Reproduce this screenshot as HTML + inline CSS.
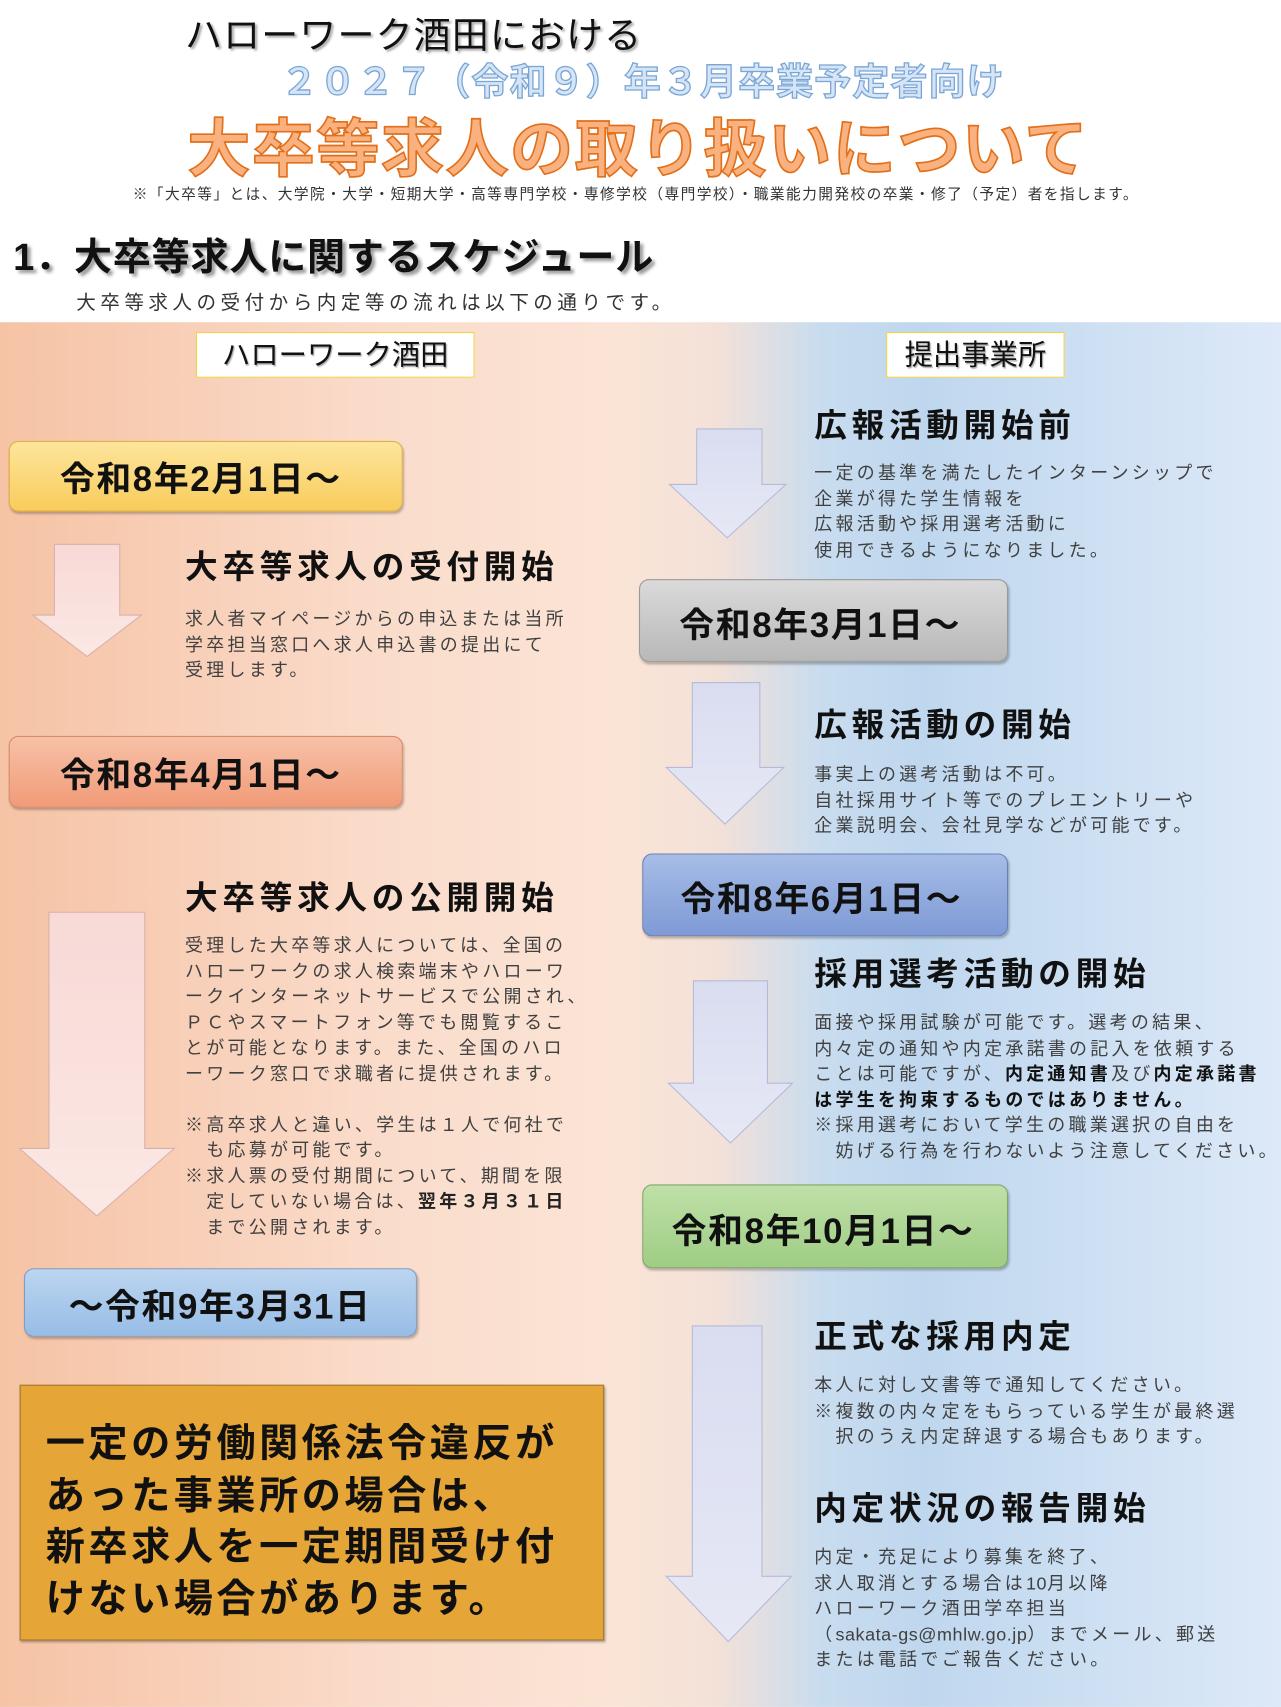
<!DOCTYPE html>
<html><head><meta charset="utf-8">
<style>
html,body{margin:0;padding:0;background:#fff;}
body{width:1281px;height:1707px;overflow:hidden;position:relative;}
#w{position:absolute;left:0;top:0;width:1177px;height:1568px;transform:scale(1.0886,1.0886);transform-origin:0 0;font-family:"Liberation Sans","Noto Sans CJK JP",sans-serif;}
.a{position:absolute;white-space:nowrap;}
.h{font-weight:bold;font-size:30px;letter-spacing:4.3px;color:#111;}
.t{font-size:16.5px;letter-spacing:3px;color:#404040;line-height:23.5px;}
.t .e{letter-spacing:0.5px;}
.d{position:absolute;border-radius:9px;font-weight:bold;font-size:32px;letter-spacing:1.5px;color:#111;box-sizing:border-box;box-shadow:1px 2px 2px rgba(0,0,0,.25);}
.lbl{position:absolute;background:#fff;border:1px solid #f0d24a;font-size:26px;color:#111;text-align:center;line-height:40px;box-sizing:border-box;text-shadow:1px 1px 1px #aaa;}
</style></head><body><div id="w">
<div class="a" style="left:170px;top:5px;font-size:34px;letter-spacing:1px;color:#111;text-shadow:2px 2px 2px #aaa;">ハローワーク酒田における</div>
<div class="a" style="left:258px;top:48px;font-size:34px;color:#d6e5f6;-webkit-text-stroke:1.2px #7aa6d6;letter-spacing:1px;font-weight:bold;">２０２７（令和９）年３月卒業予定者向け</div>
<div class="a" style="left:172px;top:90px;font-size:58px;font-weight:bold;color:#f9b27f;-webkit-text-stroke:1.5px #e26f1a;letter-spacing:1.3px;">大卒等求人の取り扱いについて</div>
<div class="a" style="left:122px;top:167px;font-size:13.5px;letter-spacing:1.3px;color:#333;">※「大卒等」とは、大学院・大学・短期大学・高等専門学校・専修学校（専門学校）・職業能力開発校の卒業・修了（予定）者を指します。</div>
<div class="a" style="left:12px;top:208px;font-size:35px;font-weight:bold;letter-spacing:0.7px;color:#111;text-shadow:3px 3px 3px #999;">1．大卒等求人に関するスケジュール</div>
<div class="a" style="left:70px;top:264px;font-size:18px;letter-spacing:4.1px;color:#333;">大卒等求人の受付から内定等の流れは以下の通りです。</div>

<div style="position:absolute;left:0;top:296px;width:1177px;height:1272px;background:linear-gradient(90deg,#f6c3a5 0%,#fadccb 30%,#fbe4d6 48%,#f3e1d8 56%,#c9dcef 64%,#bfd7ee 72%,#dde9f8 100%);"></div>

<div class="lbl" style="left:180px;top:305px;width:256px;height:42px;">ハローワーク酒田</div>
<div class="lbl" style="left:814px;top:305px;width:164px;height:42px;">提出事業所</div>

<div class="d" style="left:8px;top:405px;width:362px;height:65px;background:linear-gradient(#fde59c,#f9cc5c);border:1px solid #e0b040;padding:9px 0 0 46px;">令和8年2月1日～</div>
<div class="d" style="left:8px;top:676px;width:362px;height:66px;background:linear-gradient(#f7c1a8,#f19b78);border:1px solid #d88a6a;padding:10px 0 0 46px;">令和8年4月1日～</div>
<div class="d" style="left:22px;top:1165px;width:361px;height:63px;background:linear-gradient(#bcd5f0,#97bde6);border:1px solid #7d9cc6;padding:9px 0 0 40px;">～令和9年3月31日</div>

<svg style="position:absolute;left:0;top:0" width="1177" height="1568">
<defs>
<linearGradient id="pk" x1="0" x2="0" y1="0" y2="1"><stop offset="0" stop-color="#f8d9d6"/><stop offset="1" stop-color="#fbe8e4"/></linearGradient>
<linearGradient id="lv" x1="0" x2="0" y1="0" y2="1"><stop offset="0" stop-color="#d9ddf0"/><stop offset="1" stop-color="#e6e8f5"/></linearGradient>
</defs>
<polygon points="50,500 110,500 110,565 130,565 80,603 30,565 50,565" fill="url(#pk)" stroke="#d8b0ab" stroke-width="1"/>
<polygon points="45,838 133,838 133,1055 160,1055 89,1117 18,1055 45,1055" fill="url(#pk)" stroke="#d8b0ab" stroke-width="1"/>
<polygon points="640,394 700,394 700,445 722,445 668,494 615,445 640,445" fill="url(#lv)" stroke="#b6bad8" stroke-width="1"/>
<polygon points="636,627 698,627 698,705 720,705 666,757 612,705 636,705" fill="url(#lv)" stroke="#b6bad8" stroke-width="1"/>
<polygon points="637,901 705,901 705,995 728,995 671,1050 614,995 637,995" fill="url(#lv)" stroke="#b6bad8" stroke-width="1"/>
<polygon points="636,1218 700,1218 700,1448 727,1448 669,1508 612,1448 636,1448" fill="url(#lv)" stroke="#b6bad8" stroke-width="1"/>
</svg>

<div class="a h" style="left:170px;top:496px;">大卒等求人の受付開始</div>
<div class="a t" style="left:170px;top:558px;">求人者マイページからの申込または当所<br>学卒担当窓口へ求人申込書の提出にて<br>受理します。</div>

<div class="a h" style="left:170px;top:800px;">大卒等求人の公開開始</div>
<div class="a t" style="left:170px;top:858px;">受理した大卒等求人については、全国の<br>ハローワークの求人検索端末やハローワ<br>ークインターネットサービスで公開され、<br>ＰＣやスマートフォン等でも閲覧するこ<br>とが可能となります。また、全国のハロ<br>ーワーク窓口で求職者に提供されます。<br><br>※高卒求人と違い、学生は１人で何社で<br>　も応募が可能です。<br>※求人票の受付期間について、期間を限<br>　定していない場合は、<b style="color:#222">翌年３月３１日</b><br>　まで公開されます。</div>

<div style="position:absolute;left:18px;top:1272px;width:537px;height:235px;background:#e6a537;border:1px solid #a07830;box-sizing:border-box;box-shadow:1px 2px 2px rgba(0,0,0,.3);"></div>
<div class="a" style="left:42px;top:1302px;font-size:36px;font-weight:bold;letter-spacing:3.2px;line-height:47.5px;color:#111;">一定の労働関係法令違反が<br>あった事業所の場合は、<br>新卒求人を一定期間受け付<br>けない場合があります。</div>

<div class="a h" style="left:748px;top:366px;">広報活動開始前</div>
<div class="a t" style="left:748px;top:424px;">一定の基準を満たしたインターンシップで<br>企業が得た学生情報を<br>広報活動や採用選考活動に<br>使用できるようになりました。</div>

<div class="d" style="left:587px;top:532px;width:339px;height:76px;background:linear-gradient(#dadada,#b8b8b8);border:1px solid #999;padding:16px 0 0 36px;">令和8年3月1日～</div>

<div class="a h" style="left:748px;top:641px;">広報活動の開始</div>
<div class="a t" style="left:748px;top:701px;">事実上の選考活動は不可。<br>自社採用サイト等でのプレエントリーや<br>企業説明会、会社見学などが可能です。</div>

<div class="d" style="left:590px;top:784px;width:336px;height:76px;background:linear-gradient(#a6bde6,#7f9ad6);border:1px solid #6a80b8;padding:16px 0 0 34px;">令和8年6月1日～</div>

<div class="a h" style="left:748px;top:870px;">採用選考活動の開始</div>
<div class="a t" style="left:748px;top:929px;">面接や採用試験が可能です。選考の結果、<br>内々定の通知や内定承諾書の記入を依頼する<br>ことは可能ですが、<b style="color:#111">内定通知書</b>及び<b style="color:#111">内定承諾書</b><br><b style="color:#111">は学生を拘束するものではありません。</b><br>※採用選考において学生の職業選択の自由を<br>　妨げる行為を行わないよう注意してください。</div>

<div class="d" style="left:590px;top:1088px;width:336px;height:77px;background:linear-gradient(#bfe0a8,#9fcd84);border:1px solid #7fa868;padding:17px 0 0 26px;">令和8年10月1日～</div>

<div class="a h" style="left:748px;top:1203px;">正式な採用内定</div>
<div class="a t" style="left:748px;top:1262px;">本人に対し文書等で通知してください。<br>※複数の内々定をもらっている学生が最終選<br>　択のうえ内定辞退する場合もあります。</div>

<div class="a h" style="left:748px;top:1361px;">内定状況の報告開始</div>
<div class="a t" style="left:748px;top:1420px;">内定・充足により募集を終了、<br>求人取消とする場合は<span class="e">10</span>月以降<br>ハローワーク酒田学卒担当<br>（<span class="e">sakata-gs@mhlw.go.jp</span>）までメール、郵送<br>または電話でご報告ください。</div>
</div></body></html>
